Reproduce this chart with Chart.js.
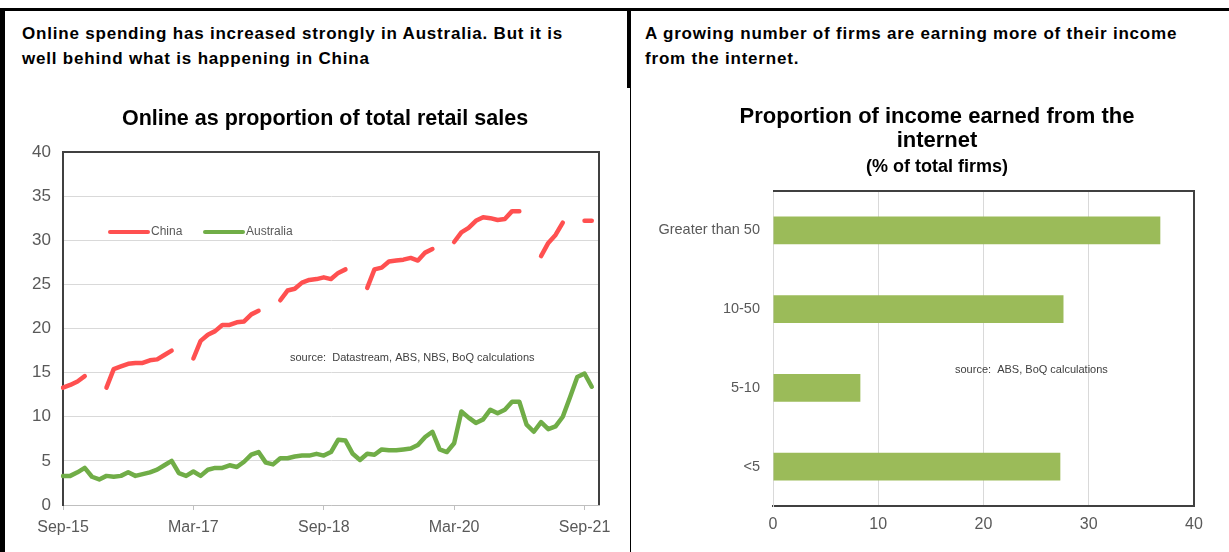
<!DOCTYPE html>
<html lang="en">
<head>
<meta charset="UTF-8">
<title>Online retail share</title>
<script src="https://cdn.jsdelivr.net/npm/chart.js"></script>
<style>
  body { margin: 0; width: 1229px; height: 552px; overflow: hidden; position: relative; background: #fff;
         font-family: 'Liberation Sans', Arial, sans-serif; }
  .rule { position: absolute; background: #000; z-index: 2; }
  .head { position: absolute; top: 21px; font-size: 17px; font-weight: bold; line-height: 25px;
          letter-spacing: 0.8px; color: #000; white-space: nowrap; }
  .title { position: absolute; text-align: center; font-weight: bold; color: #000; z-index: 2; white-space: nowrap; }
  canvas { position: absolute; top: 90px; }
</style>
</head>
<body>
<div class="head" style="left:22px">Online spending has increased strongly in Australia. But it is<br>well behind what is happening in China</div>
<div class="head" style="left:645px">A growing number of firms are earning more of their income<br>from the internet.</div>

<div class="title" style="left:0;width:650px;top:105px;font-size:21.5px;line-height:26px">Online as proportion of total retail sales</div>
<div class="title" style="left:637px;width:600px;top:104px;font-size:22px;line-height:24px">Proportion of income earned from the<br>internet</div>
<div class="title" style="left:637px;width:600px;top:156px;font-size:18px;line-height:20px">(% of total firms)</div>

<canvas id="onlineChart" width="628" height="462" style="left:0"></canvas>
<canvas id="incomeChart" width="597" height="462" style="left:632px"></canvas>

<div class="rule" style="left:0;top:8px;width:1229px;height:3px"></div>
<div class="rule" style="left:0;top:8px;width:5px;height:544px"></div>
<div class="rule" style="left:627px;top:8px;width:4px;height:80px"></div>
<div class="rule" style="left:630px;top:88px;width:1px;height:464px"></div>

<script>
// ---- left chart: online share of retail sales (monthly, Sep-15 .. Nov-21)
const months = [
  'Sep-15','Oct-15','Nov-15','Dec-15',
  'Jan-16','Feb-16','Mar-16','Apr-16','May-16','Jun-16','Jul-16','Aug-16','Sep-16','Oct-16','Nov-16','Dec-16',
  'Jan-17','Feb-17','Mar-17','Apr-17','May-17','Jun-17','Jul-17','Aug-17','Sep-17','Oct-17','Nov-17','Dec-17',
  'Jan-18','Feb-18','Mar-18','Apr-18','May-18','Jun-18','Jul-18','Aug-18','Sep-18','Oct-18','Nov-18','Dec-18',
  'Jan-19','Feb-19','Mar-19','Apr-19','May-19','Jun-19','Jul-19','Aug-19','Sep-19','Oct-19','Nov-19','Dec-19',
  'Jan-20','Feb-20','Mar-20','Apr-20','May-20','Jun-20','Jul-20','Aug-20','Sep-20','Oct-20','Nov-20','Dec-20',
  'Jan-21','Feb-21','Mar-21','Apr-21','May-21','Jun-21','Jul-21','Aug-21','Sep-21','Oct-21','Nov-21'
];
const xTickLabels = ['Sep-15', 'Mar-17', 'Sep-18', 'Mar-20', 'Sep-21'];

// China has no Jan/Feb figures, hence the gaps
const china = [
  13.3, 13.6, 14.0, 14.6,
  null, null, 13.3, 15.4, 15.7, 16.0, 16.1, 16.1, 16.4, 16.5, 17.0, 17.5,
  null, null, 16.6, 18.6, 19.3, 19.7, 20.4, 20.4, 20.7, 20.8, 21.6, 22.0,
  null, null, 23.2, 24.3, 24.5, 25.2, 25.5, 25.6, 25.8, 25.6, 26.3, 26.7,
  null, null, 24.6, 26.7, 26.9, 27.6, 27.7, 27.8, 28.0, 27.7, 28.6, 29.0,
  null, null, 29.8, 30.9, 31.4, 32.2, 32.6, 32.5, 32.3, 32.4, 33.3, 33.3,
  null, null, 28.2, 29.7, 30.6, 32.0, null, null, 32.2, 32.2, null
];
const australia = [
  3.3, 3.3, 3.7, 4.2,
  3.2, 2.9, 3.3, 3.2, 3.3, 3.7, 3.3, 3.5, 3.7, 4.0, 4.5, 5.0,
  3.6, 3.3, 3.8, 3.3, 4.0, 4.2, 4.2, 4.5, 4.3, 4.9, 5.7, 6.0,
  4.8, 4.6, 5.3, 5.3, 5.5, 5.6, 5.6, 5.8, 5.6, 6.0, 7.4, 7.3,
  5.8, 5.1, 5.8, 5.7, 6.3, 6.2, 6.2, 6.3, 6.4, 6.8, 7.7, 8.3,
  6.3, 6.0, 7.0, 10.6, 9.9, 9.3, 9.7, 10.8, 10.4, 10.8, 11.7, 11.7,
  9.1, 8.3, 9.4, 8.6, 8.9, 10.0, 12.2, 14.5, 14.9, 13.4, null
];

// ---- right chart: share of income earned online
const incomeBands = ['Greater than 50', '10-50', '5-10', '<5'];
const firmShare = [36.8, 27.6, 8.3, 27.3];

const FONT = "'Liberation Sans', Arial, sans-serif";
const GREY_TEXT = '#595959';
const GRID = '#D9D9D9';
const DARK = '#404040';

// frame on top/right of the plot, inline legend and source note
const panelExtras = {
  id: 'panelExtras',
  afterDatasetsDraw(chart, args, opts) {
    const ctx = chart.ctx;
    const a = chart.chartArea;
    ctx.save();
    ctx.strokeStyle = DARK;
    ctx.lineWidth = 2;
    ctx.beginPath();
    ctx.moveTo(a.left, a.top);
    ctx.lineTo(a.right, a.top);
    ctx.lineTo(a.right, a.bottom);
    ctx.stroke();

    ctx.textBaseline = 'middle';
    ctx.textAlign = 'left';
    if (opts.legend) {
      const lg = opts.legend;
      ctx.font = '12px ' + FONT;
      chart.data.datasets.forEach((ds, i) => {
        const x = a.left + lg.x[i];
        const y = a.top + lg.y;
        ctx.strokeStyle = ds.borderColor;
        ctx.lineWidth = 4;
        ctx.lineCap = 'round';
        ctx.beginPath();
        ctx.moveTo(x, y);
        ctx.lineTo(x + lg.sample, y);
        ctx.stroke();
        ctx.fillStyle = GREY_TEXT;
        ctx.fillText(ds.label, x + lg.sample + 3, y);
      });
    }
    if (opts.note) {
      ctx.font = '11px ' + FONT;
      ctx.fillStyle = '#404040';
      ctx.fillText(opts.note.text, a.left + opts.note.x, a.top + opts.note.y);
    }
    ctx.restore();
  }
};

new Chart(document.getElementById('onlineChart'), {
  type: 'line',
  data: {
    labels: months,
    datasets: [
      { label: 'China', data: china, borderColor: '#FF5050', borderWidth: 4.5,
        pointRadius: 0, borderCapStyle: 'round', borderJoinStyle: 'round', spanGaps: false },
      { label: 'Australia', data: australia, borderColor: '#70AD47', borderWidth: 4.5,
        pointRadius: 0, borderCapStyle: 'round', borderJoinStyle: 'round' }
    ]
  },
  options: {
    responsive: false,
    animation: false,
    layout: { padding: { left: 0, right: 29, top: 62, bottom: 0 } },
    plugins: {
      legend: { display: false },
      tooltip: { enabled: false },
      panelExtras: {
        legend: { x: [47, 142], y: 80, sample: 38 },
        note: { text: 'source:  Datastream, ABS, NBS, BoQ calculations', x: 227, y: 206 }
      }
    },
    scales: {
      x: {
        ticks: {
          autoSkip: false, maxRotation: 0, padding: 8, color: GREY_TEXT,
          font: { family: FONT, size: 16 },
          callback: (v, i) => xTickLabels.includes(months[i]) ? months[i] : ''
        },
        grid: {
          drawOnChartArea: false, drawTicks: true, tickLength: 5,
          color: c => xTickLabels.includes(months[c.index]) ? '#BFBFBF' : 'rgba(0,0,0,0)'
        },
        border: { color: '#BFBFBF', width: 1 },
        afterFit: s => { s.height = 47; }
      },
      y: {
        min: 0, max: 40,
        ticks: { stepSize: 5, padding: 12, color: GREY_TEXT, font: { family: FONT, size: 17 } },
        grid: { color: GRID, drawTicks: false },
        border: { color: DARK, width: 2 },
        afterFit: s => { s.width = 63; }
      }
    }
  },
  plugins: [panelExtras]
});

new Chart(document.getElementById('incomeChart'), {
  type: 'bar',
  data: {
    labels: incomeBands,
    datasets: [{ label: '% of total firms', data: firmShare, backgroundColor: '#9BBB59',
                 barPercentage: 0.35, categoryPercentage: 1 }]
  },
  options: {
    indexAxis: 'y',
    responsive: false,
    animation: false,
    layout: { padding: { left: 0, right: 35, top: 101, bottom: 0 } },
    plugins: {
      legend: { display: false },
      tooltip: { enabled: false },
      panelExtras: {
        note: { text: 'source:  ABS, BoQ calculations', x: 182, y: 179 }
      }
    },
    scales: {
      x: {
        min: 0, max: 40,
        ticks: { stepSize: 10, padding: 9, color: GREY_TEXT, font: { family: FONT, size: 16 } },
        grid: { color: GRID, drawTicks: false },
        border: { color: DARK, width: 2 },
        afterFit: s => { s.height = 46; }
      },
      y: {
        ticks: { padding: 5, color: GREY_TEXT, font: { family: FONT, size: 14.5 } },
        grid: { display: false },
        border: { color: GRID, width: 1, dash: [2, 2] },
        afterFit: s => { s.width = 141; }
      }
    }
  },
  plugins: [panelExtras]
});
</script>
</body>
</html>
